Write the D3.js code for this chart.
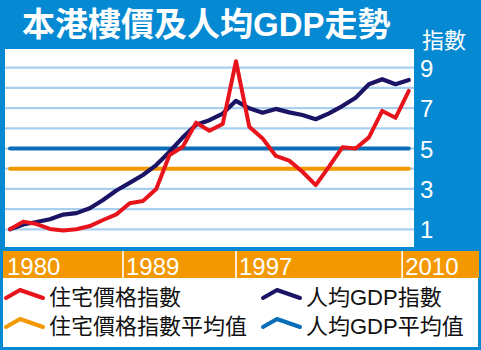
<!DOCTYPE html>
<html><head><meta charset="utf-8">
<script src="https://cdn.jsdelivr.net/npm/d3@7"></script>
<style>body{margin:0;background:#fff}svg{display:block}</style>
</head><body><svg id="c" width="481" height="350"></svg>
<script>
const years = [1980,1981,1982,1983,1984,1985,1986,1987,1988,1989,1990,1991,1992,1993,1994,1995,1996,1997,1998,1999,2000,2001,2002,2003,2004,2005,2006,2007,2008,2009,2010];
const housingIndex = [1.0,1.38,1.26,1.02,0.94,1.0,1.16,1.46,1.74,2.29,2.4,3.0,4.68,5.09,6.28,5.88,6.21,9.32,6.08,5.5,4.63,4.4,3.85,3.19,4.1,5.06,5.0,5.55,6.86,6.52,7.85];
const gdpIndex = [1.0,1.24,1.36,1.5,1.73,1.8,2.04,2.45,2.92,3.3,3.69,4.18,4.84,5.55,6.18,6.4,6.73,7.36,6.99,6.77,6.96,6.79,6.66,6.45,6.74,7.1,7.51,8.18,8.43,8.18,8.39];
const housingAvg = 4.0;
const gdpAvg = 5.0;
const yTicks = [1,3,5,7,9];
const gridValues = [1,2,3,4,5,6,7,8,9];
const xLabels = ["1980","1989","1997","2010"];
const xLabelBounds = [1979.5,1988.5,1997,2009.5];
const title = "本港樓價及人均GDP走勢";
const yTitle = "指數";
const legendItems = ["住宅價格指數","人均GDP指數","住宅價格指數平均值","人均GDP平均值"];

const C = {bg:"#0589d2", red:"#e8141c", navy:"#1b1464", orange:"#f39800", blue:"#0a6db8", grid:"#a9cfee"};
const font = "'Liberation Sans','Noto Sans CJK TC',sans-serif";

const svg = d3.select("#c");
svg.append("rect").attr("width",481).attr("height",350).attr("fill",C.bg);

// plot area
const P = {l:5, t:49, r:414, b:247};
svg.append("rect").attr("x",P.l).attr("y",P.t).attr("width",P.r-P.l).attr("height",P.b-P.t).attr("fill","#fff");

const x = d3.scaleLinear().domain([1980,2010]).range([10,408.8]);
const y = d3.scaleLinear().domain([1,9]).range([229.3,67.7]);

svg.append("g").selectAll("line").data(gridValues).join("line")
  .attr("x1",P.l).attr("x2",P.r).attr("y1",d=>y(d)).attr("y2",d=>y(d))
  .attr("stroke",C.grid).attr("stroke-width",2.2);

// averages
[[housingAvg,C.orange],[gdpAvg,C.blue]].forEach(([v,c])=>{
  svg.append("line").attr("x1",x(years[0])).attr("x2",x(years[years.length-1]))
    .attr("y1",y(v)).attr("y2",y(v)).attr("stroke",c).attr("stroke-width",4).attr("stroke-linecap","round");
});

const line = d3.line().x((d,i)=>x(years[i])).y(d=>y(d));
svg.append("path").datum(gdpIndex).attr("d",line).attr("fill","none").attr("stroke",C.navy)
  .attr("stroke-width",4.2).attr("stroke-linejoin","round").attr("stroke-linecap","round");
svg.append("path").datum(housingIndex).attr("d",line).attr("fill","none").attr("stroke",C.red)
  .attr("stroke-width",4).attr("stroke-linejoin","round").attr("stroke-linecap","round");

// right axis
const ax = svg.append("g").attr("transform",`translate(${P.r},0)`)
  .call(d3.axisRight(y).tickValues(yTicks).tickSize(0).tickPadding(6).tickFormat(d3.format("d")));
ax.select(".domain").remove();
ax.selectAll("text").attr("fill","#fff").attr("font-size",24).attr("font-family",font).attr("dy","0.36em");

// title
svg.append("text").attr("x",22).attr("y",36).text(title)
  .attr("fill","#fff").attr("font-size",33).attr("font-weight","bold").attr("font-family",font);
svg.append("text").attr("x",422).attr("y",48).text(yTitle)
  .attr("fill","#fff").attr("font-size",22).attr("font-family",font);

// x band
svg.append("rect").attr("x",3).attr("y",251).attr("width",476).attr("height",27).attr("fill",C.orange);
svg.append("g").selectAll("line").data(xLabelBounds.slice(1)).join("line")
  .attr("x1",d=>x(d)).attr("x2",d=>x(d)).attr("y1",251).attr("y2",278)
  .attr("stroke","#fff").attr("stroke-width",1.6);
svg.append("g").selectAll("text").data(xLabels).join("text")
  .attr("x",(d,i)=>Math.max(7,x(xLabelBounds[i])+3)).attr("y",275).text(d=>d)
  .attr("fill","#fff").attr("font-size",24).attr("font-family",font);

// legend
svg.append("rect").attr("x",3).attr("y",278).attr("width",475).attr("height",69).attr("fill","#fff");
const legColors = [C.red,C.navy,C.orange,C.blue];
const leg = svg.append("g").selectAll("g").data(legendItems).join("g")
  .attr("transform",(d,i)=>`translate(${i%2?257:0},${Math.floor(i/2)*29})`);
leg.append("path").attr("d","M6,298 L20,290 L43,298").attr("fill","none")
  .attr("stroke",(d,i)=>legColors[i]).attr("stroke-width",4).attr("stroke-linecap","round").attr("stroke-linejoin","round");
leg.append("text").attr("x",49).attr("y",305).text(d=>d)
  .attr("fill","#111").attr("font-size",22).attr("font-family",font);
</script></body></html>
